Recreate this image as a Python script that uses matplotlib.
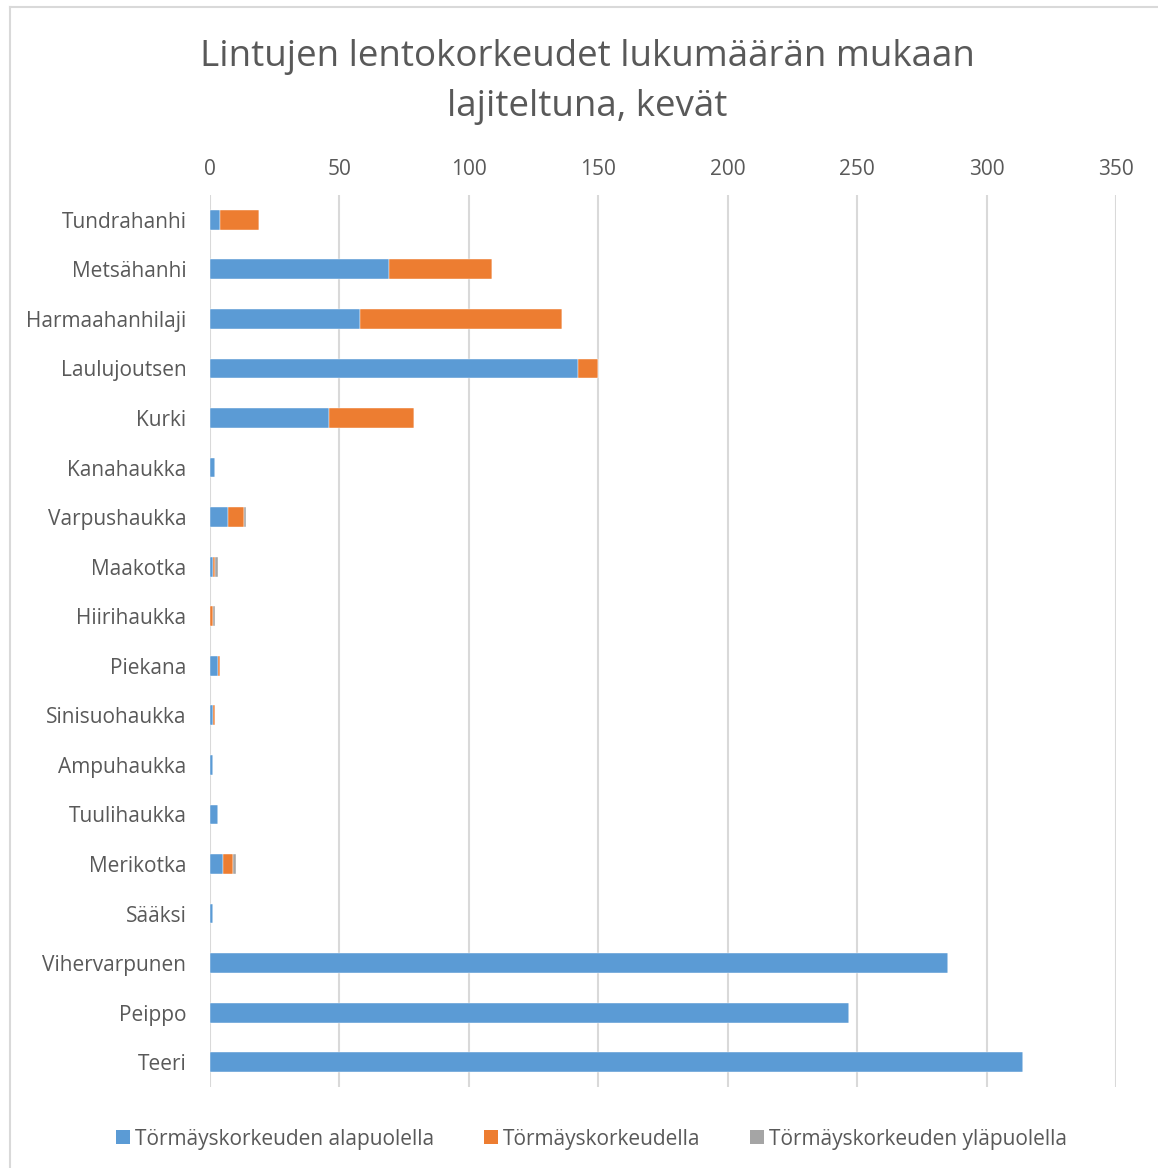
import matplotlib.pyplot as plt
from matplotlib.lines import Line2D
from matplotlib.patches import Patch

# bird species, top to bottom
lajit = ["Tundrahanhi", "Metsähanhi", "Harmaahanhilaji", "Laulujoutsen", "Kurki",
         "Kanahaukka", "Varpushaukka", "Maakotka", "Hiirihaukka", "Piekana",
         "Sinisuohaukka", "Ampuhaukka", "Tuulihaukka", "Merikotka", "Sääksi",
         "Vihervarpunen", "Peippo", "Teeri"]
alapuolella = [4, 69, 58, 142, 46, 2, 7, 1, 0, 3, 1, 1, 3, 5, 1, 285, 247, 314]
korkeudella = [15, 40, 78, 8, 33, 0, 6, 1, 1, 1, 1, 0, 0, 4, 0, 0, 0, 0]
ylapuolella = [0, 0, 0, 0, 0, 0, 1, 1, 1, 0, 0, 0, 0, 1, 0, 0, 0, 0]
sarjat = ["Törmäyskorkeuden alapuolella", "Törmäyskorkeudella", "Törmäyskorkeuden yläpuolella"]
varit = ["#5b9bd5", "#ed7d31", "#a5a5a5"]

plt.rcParams['font.family'] = ['Open Sans', 'DejaVu Sans']
teksti = "#595959"

fig = plt.figure(figsize=(11.58, 11.68), dpi=100)
ax = fig.add_axes([210/1158, 1 - 1087/1168, 906/1158, (1087 - 195)/1168])

y = range(len(lajit))
vasen = [0] * len(lajit)
for arvot, vari in zip([alapuolella, korkeudella, ylapuolella], varit):
    ax.barh(y, arvot, left=vasen, height=0.4, color=vari, edgecolor="white", linewidth=0.3, zorder=3)
    vasen = [a + b for a, b in zip(vasen, arvot)]

ax.set_xlim(0, 350)
ax.set_ylim(len(lajit) - 0.5, -0.5)
ax.set_xticks(range(0, 351, 50))
ax.set_yticks(list(y))
ax.set_yticklabels(lajit)
ax.xaxis.tick_top()
ax.tick_params(length=0, labelsize=15, colors=teksti)
ax.tick_params(axis="x", pad=11)
ax.tick_params(axis="y", pad=17)
ax.grid(axis="x", color="#d9d9d9", linewidth=1.5, zorder=0)
for s in ax.spines.values():
    s.set_visible(False)

fig.text(0.507, 1 - 82/1168, "Lintujen lentokorkeudet lukumäärän mukaan\nlajiteltuna, kevät",
         ha="center", va="center", fontsize=26.5, color=teksti, linespacing=1.5)

kahvat = [Patch(facecolor=v, edgecolor="none") for v in varit]
fig.legend(kahvat, sarjat, loc="center", bbox_to_anchor=(0.511, 1 - 1139/1168), ncol=3,
           frameon=False, fontsize=15, labelcolor=teksti, handlelength=0.65, handleheight=0.65,
           handletextpad=0.25, columnspacing=2.4)

# chart area border
fig.add_artist(Line2D([10/1158, 10/1158], [0, 1 - 7/1168], color="#d9d9d9", lw=1.5))
fig.add_artist(Line2D([10/1158, 1], [1 - 7/1168, 1 - 7/1168], color="#d9d9d9", lw=1.5))

fig.savefig("out.png", dpi=100)
